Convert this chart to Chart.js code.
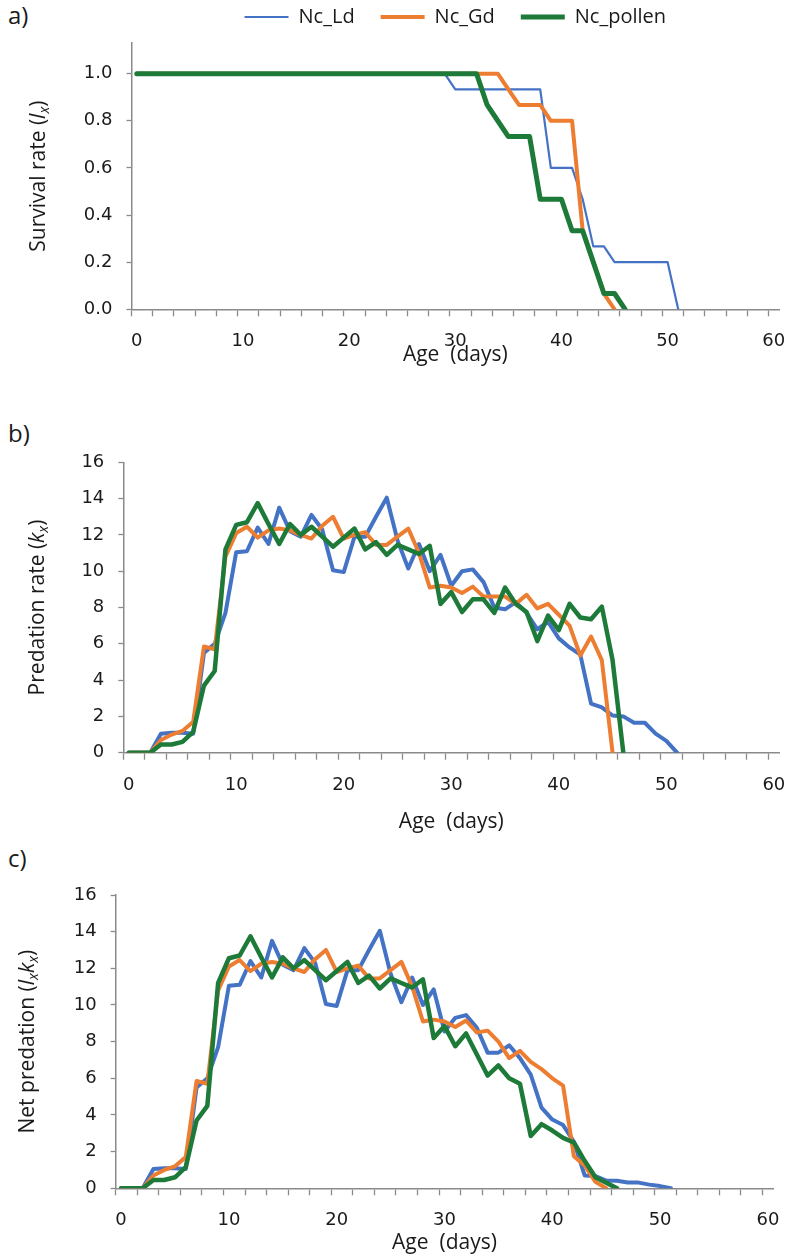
<!DOCTYPE html>
<html>
<head>
<meta charset="utf-8">
<script src="https://cdn.jsdelivr.net/npm/chart.js@4.4.1/dist/chart.umd.min.js"></script>
<style>
  body { margin: 0; background: #fff; }
  #page { position: relative; width: 800px; height: 1256px; background: #fff; }
  canvas { position: absolute; left: 0; }
  .tag { position: absolute; left: 8px; font: 24px 'Open Sans', sans-serif; color: #1a1a1a; }
</style>
</head>
<body>
<div id="page">
  <div class="tag" style="top:-2px">a)</div>
  <div class="tag" style="top:416px">b)</div>
  <div class="tag" style="top:841px">c)</div>
  <canvas id="chartA" width="800" height="375" style="top:0px"></canvas>
  <canvas id="chartB" width="800" height="440" style="top:400px"></canvas>
  <canvas id="chartC" width="800" height="416" style="top:840px"></canvas>
</div>
<script>
// age categories (days)
const AGES = [0,1,2,3,4,5,6,7,8,9,10,11,12,13,14,15,16,17,18,19,20,21,22,23,24,25,26,27,28,29,30,
  31,32,33,34,35,36,37,38,39,40,41,42,43,44,45,46,47,48,49,50,51,52,53,54,55,56,57,58,59,60];

const SERIES = ['Nc_Ld', 'Nc_Gd', 'Nc_pollen'];

// a) survival rate lx
const SURV_LD = [1,1,1,1,1,1,1,1,1,1, 1,1,1,1,1,1,1,1,1,1, 1,1,1,1,1,1,1,1,1,1,
  0.933,0.933,0.933,0.933,0.933,0.933,0.933,0.933,0.933, 0.6,0.6,0.6, 0.467, 0.267,0.267,
  0.2,0.2,0.2,0.2,0.2,0.2, 0];
const SURV_GD = [1,1,1,1,1,1,1,1,1,1, 1,1,1,1,1,1,1,1,1,1, 1,1,1,1,1,1,1,1,1,1, 1,1,1,1,1,
  0.933, 0.867,0.867,0.867, 0.8,0.8,0.8, 0.333, 0.2, 0.067, 0];
const SURV_POLLEN = [1,1,1,1,1,1,1,1,1,1, 1,1,1,1,1,1,1,1,1,1, 1,1,1,1,1,1,1,1,1,1, 1,1,1,
  0.867, 0.8, 0.733,0.733,0.733, 0.467,0.467,0.467, 0.333,0.333, 0.2, 0.067,0.067, 0];

// b) predation rate kx
const PRED_LD = [0,0,0,1.05,1.1,1.1,1.05,5.5,6.0,7.7,
  11.05,11.1,12.4,11.5,13.5,12.2,11.9,13.1,12.3,10.05,
  9.95,11.9,11.9,13.0,14.05,11.7,10.15,11.5,10.0,10.9,
  9.2,10.0,10.1,9.4,8.0,7.9,8.3,7.7,6.8,7.2,
  6.3,5.8,5.4,2.7,2.5,2.05,2.0,1.65,1.65,1.05,
  0.65,0];
const PRED_GD = [0,0,0,0.7,1.0,1.2,1.7,5.85,5.7,10.8,
  12.1,12.45,11.85,12.25,12.35,12.25,12.0,11.8,12.5,13.0,
  11.8,12.0,12.15,11.45,11.45,11.9,12.35,11.0,9.1,9.2,
  9.1,8.8,9.15,8.6,8.6,8.6,8.2,8.7,7.95,8.2,
  7.6,7.0,5.35,6.4,5.1,0];
const PRED_POLLEN = [0,0,0,0.45,0.45,0.6,1.15,3.7,4.5,11.2,
  12.55,12.7,13.75,12.6,11.5,12.6,12.0,12.45,11.9,11.35,
  11.85,12.35,11.2,11.6,10.9,11.45,11.2,10.95,11.4,8.2,
  8.85,7.75,8.45,8.45,7.7,9.1,8.2,7.75,6.15,7.55,
  6.75,8.2,7.45,7.35,8.05,5.1,0];

// c) net predation lxkx
const NET_LD = [0,0,0,1.05,1.1,1.1,1.05,5.5,6.0,7.7,
  11.05,11.1,12.4,11.5,13.5,12.2,11.9,13.1,12.3,10.05,
  9.95,11.9,11.9,13.0,14.05,11.7,10.15,11.5,10.0,10.85,
  8.55,9.3,9.45,8.75,7.4,7.4,7.8,7.1,6.2,4.4,
  3.75,3.45,2.55,0.7,0.67,0.42,0.41,0.32,0.31,0.2,
  0.12,0];
const NET_GD = [0,0,0,0.7,1.0,1.2,1.7,5.85,5.7,10.8,
  12.1,12.45,11.85,12.25,12.35,12.25,12.0,11.8,12.5,13.0,
  11.8,12.0,12.15,11.45,11.45,11.9,12.35,11.0,9.1,9.2,
  9.1,8.8,9.15,8.5,8.6,8.0,7.1,7.5,6.9,6.5,
  6.0,5.6,1.75,1.25,0.35,0];
const NET_POLLEN = [0,0,0,0.45,0.45,0.6,1.15,3.7,4.5,11.2,
  12.55,12.7,13.75,12.6,11.5,12.6,12.0,12.45,11.9,11.35,
  11.85,12.35,11.2,11.6,10.9,11.45,11.2,10.95,11.4,8.2,
  8.85,7.75,8.45,7.3,6.15,6.7,6.0,5.7,2.85,3.5,
  3.15,2.75,2.5,1.5,0.6,0.3,0];

const COLORS = ['#4472C4', '#ED7D31', '#1D7A38'];
const AXIS_GRAY = '#8a8a8a';
const TEXT = '#1a1a1a';
const TICK_FONT = { family: 'DejaVu Sans', size: 18 };
const TITLE_FONT = { family: 'Open Sans', size: 21 };

// y axis title with italic / subscript pieces
const yTitlePlugin = {
  id: 'yTitle',
  afterDraw(chart, args, opts) {
    const ctx = chart.ctx;
    const area = chart.chartArea;
    const size = opts.size;
    const pieces = opts.parts.map(p => {
      const sub = p[1].indexOf('s') >= 0;
      const ital = p[1].indexOf('i') >= 0;
      const s = sub ? size * 0.68 : size;
      return { text: p[0], font: (ital ? 'italic ' : '') + s + 'px "Open Sans"', dy: sub ? size * 0.3 : 0 };
    });
    ctx.save();
    let total = 0;
    pieces.forEach(p => { ctx.font = p.font; p.w = ctx.measureText(p.text).width; total += p.w; });
    ctx.translate(opts.x, (area.top + area.bottom) / 2);
    ctx.rotate(-Math.PI / 2);
    ctx.fillStyle = TEXT;
    ctx.textBaseline = 'middle';
    ctx.textAlign = 'left';
    let x = -total / 2;
    pieces.forEach(p => { ctx.font = p.font; ctx.fillText(p.text, x, p.dy); x += p.w; });
    ctx.restore();
  }
};

function makeDatasets(data, widths) {
  return data.map((vals, i) => ({
    label: SERIES[i],
    data: vals,
    borderColor: COLORS[i],
    backgroundColor: COLORS[i],
    borderWidth: widths[i],
    pointRadius: 0,
    tension: 0,
    borderJoinStyle: 'round',
    borderCapStyle: 'round',
    fill: false,
    order: 2 - i
  }));
}

function createPanel(canvasId, p) {
  return new Chart(document.getElementById(canvasId), {
    type: 'line',
    data: { labels: AGES, datasets: makeDatasets(p.data, p.widths) },
    options: {
      responsive: false,
      animation: false,
      layout: { padding: p.padding },
      plugins: {
        legend: p.legend ? {
          display: true,
          position: 'top',
          align: 'center',
          fullSize: false,
          labels: {
            usePointStyle: true,
            pointStyle: 'line',
            pointStyleWidth: 44,
            padding: 26,
            color: TEXT,
            font: { family: 'Open Sans', size: 20 },
            sort: (a, b) => a.datasetIndex - b.datasetIndex
          }
        } : { display: false },
        subtitle: p.legend ? { display: true, text: ' ', weight: 500, padding: 0, font: { size: 5 } } : { display: false },
        tooltip: { enabled: false },
        yTitle: { parts: p.yTitle, x: p.yTitleX, size: 21 }
      },
      scales: {
        x: {
          type: 'category',
          offset: true,
          grid: {
            offset: true,
            drawOnChartArea: false,
            drawTicks: true,
            tickLength: 7,
            tickWidth: 1.3,
            tickColor: c => c.index % 2 === 0 ? AXIS_GRAY : 'rgba(0,0,0,0)'
          },
          border: { display: true, color: AXIS_GRAY, width: 1.5 },
          ticks: {
            autoSkip: false,
            maxRotation: 0,
            padding: 14.6,
            color: TEXT,
            font: TICK_FONT,
            callback: function (v) {
              const l = this.getLabelForValue(v);
              return l % 10 === 0 ? String(l) : '';
            }
          },
          title: {
            display: true,
            text: 'Age  (days)',
            color: TEXT,
            font: TITLE_FONT,
            padding: { top: 0, bottom: p.xTitlePad }
          },
          afterFit: s => { s.height = p.xHeight; }
        },
        y: {
          min: 0,
          max: p.yMax,
          grid: { drawOnChartArea: false, drawTicks: true, tickLength: 5, tickWidth: 1.3, tickColor: AXIS_GRAY },
          border: { display: true, color: AXIS_GRAY, width: 1.5 },
          ticks: {
            stepSize: p.yStep,
            includeBounds: false,
            padding: 14,
            color: TEXT,
            font: TICK_FONT,
            callback: p.yFormat
          },
          afterFit: s => { s.width = p.yWidth; }
        }
      }
    },
    plugins: [yTitlePlugin]
  });
}

createPanel('chartA', {
  data: [SURV_LD, SURV_GD, SURV_POLLEN],
  widths: [2.2, 4, 5],
  legend: true,
  padding: { top: -19, left: 0, right: 17, bottom: 0 },
  yWidth: 131.5,
  xHeight: 65.7,
  xTitlePad: 7.4,
  yMax: 1.13,
  yStep: 0.2,
  yFormat: v => v.toFixed(1),
  yTitle: [['Survival rate (', 'n'], ['l', 'i'], ['x', 'is'], [')', 'n']],
  yTitleX: 39
});

createPanel('chartB', {
  data: [PRED_LD, PRED_GD, PRED_POLLEN],
  widths: [4, 4, 4.5],
  legend: false,
  padding: { top: 62.3, left: 0, right: 10, bottom: 0 },
  yWidth: 123.3,
  xHeight: 87.3,
  xTitlePad: 5.4,
  yMax: 16,
  yStep: 2,
  yFormat: v => String(v),
  yTitle: [['Predation rate (', 'n'], ['k', 'i'], ['x', 'is'], [')', 'n']],
  yTitleX: 38
});

createPanel('chartC', {
  data: [NET_LD, NET_GD, NET_POLLEN],
  widths: [4, 4, 4.5],
  legend: false,
  padding: { top: 55, left: 0, right: 26.7, bottom: 0 },
  yWidth: 115.7,
  xHeight: 67.7,
  xTitlePad: 0.4,
  yMax: 16,
  yStep: 2,
  yFormat: v => String(v),
  yTitle: [['Net predation (', 'n'], ['l', 'i'], ['x', 'is'], ['k', 'i'], ['x', 'is'], [')', 'n']],
  yTitleX: 28
});
</script>
</body>
</html>
